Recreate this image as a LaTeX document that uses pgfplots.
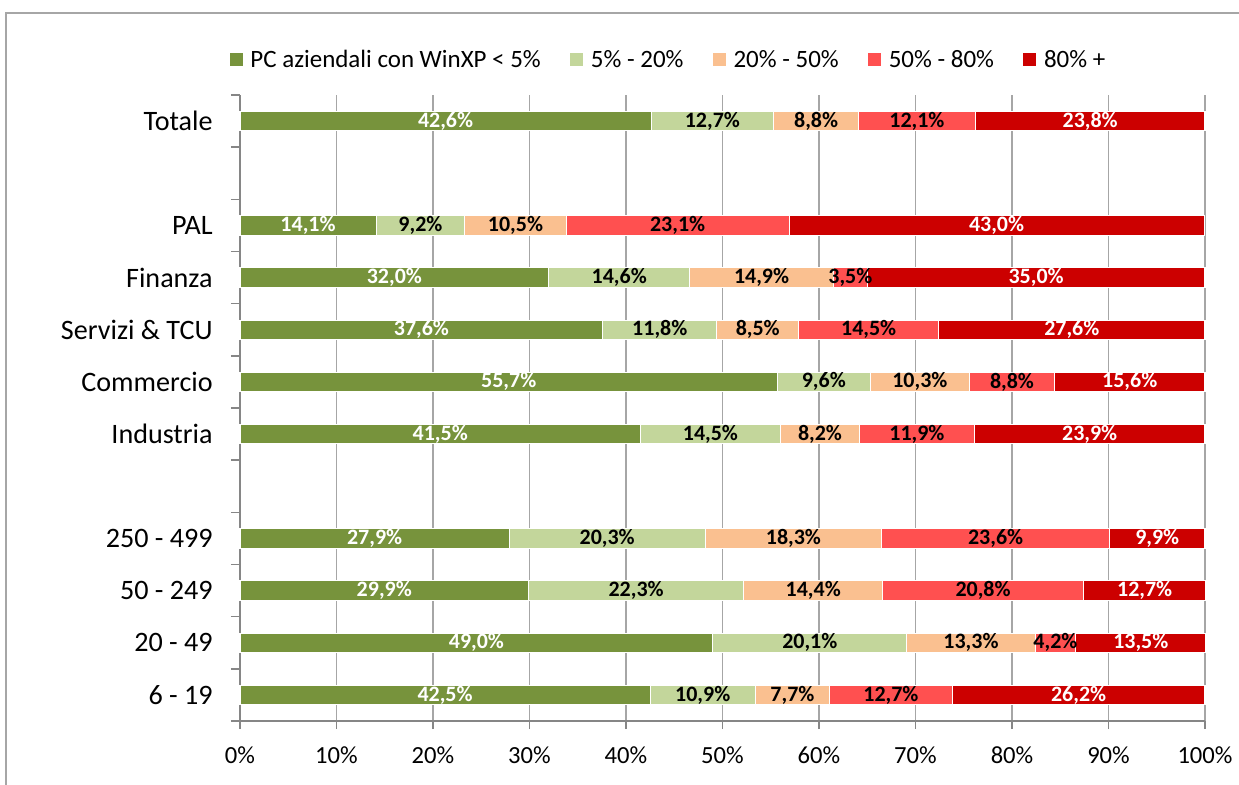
\documentclass[border=0pt]{standalone}
\usepackage{pgfplots}
\pgfplotsset{compat=1.18}
\usepackage{pgfplotstable}
\usepackage{fontspec}
\setmainfont{Carlito}
\definecolor{cA}{HTML}{77933C}
\definecolor{cB}{HTML}{C3D69B}
\definecolor{cC}{HTML}{FAC090}
\definecolor{cD}{HTML}{FF5050}
\definecolor{cE}{HTML}{CC0000}
\definecolor{gridc}{HTML}{A6A6A6}
\definecolor{axc}{HTML}{868686}
% y: 0=6-19, 1=20-49, 2=50-249, 3=250-499, 5=Industria, 6=Commercio, 7=Servizi, 8=Finanza, 9=PAL, 11=Totale
\pgfplotstableread{
y v
0 42.5
1 49.0
2 29.9
3 27.9
5 41.5
6 55.7
7 37.6
8 32.0
9 14.1
11 42.6
}\tA
\pgfplotstableread{
y v
0 10.9
1 20.1
2 22.3
3 20.3
5 14.5
6 9.6
7 11.8
8 14.6
9 9.2
11 12.7
}\tB
\pgfplotstableread{
y v
0 7.7
1 13.3
2 14.4
3 18.3
5 8.2
6 10.3
7 8.5
8 14.9
9 10.5
11 8.8
}\tC
\pgfplotstableread{
y v
0 12.7
1 4.2
2 20.8
3 23.6
5 11.9
6 8.8
7 14.5
8 3.5
9 23.1
11 12.1
}\tD
\pgfplotstableread{
y v
0 26.2
1 13.5
2 12.7
3 9.9
5 23.9
6 15.6
7 27.6
8 35.0
9 43.0
11 23.8
}\tE
\begin{document}
\begin{tikzpicture}
\useasboundingbox (-4.8,-1.26) rectangle (19.98,14.42);
\draw[gridc, line width=0.7pt] (-4.68,-1.6) -- (-4.68,14.16) -- (20.5,14.16);
\begin{axis}[
  at={(0,0)}, anchor=south west,
  scale only axis, width=19.3cm, height=12.52cm,
  xbar stacked, bar width=0.37,
  xmin=0, xmax=100, ymin=-0.5, ymax=11.5,
  clip=false,
  axis lines*=left,
  axis line style={axc, line width=0.8pt},
  tick align=outside,
  xtick={0,10,...,100},
  xticklabels={0\%,10\%,20\%,30\%,40\%,50\%,60\%,70\%,80\%,90\%,100\%},
  ytick={0,1,2,3,5,6,7,8,9,11},
  yticklabels={6 - 19,20 - 49,50 - 249,250 - 499,Industria,Commercio,Servizi \& TCU,Finanza,PAL,Totale},
  minor ytick={-0.5,0.5,...,11.5},
  major tick length=0.16cm,
  minor tick length=0.18cm,
  every major y tick/.append style={draw=none},
  every minor y tick/.append style={axc, line width=0.8pt},
  every major x tick/.append style={axc, line width=0.8pt},
  xmajorgrids=true,
  major x grid style={gridc, line width=0.8pt},
  x tick label style={font=\fontsize{14}{16}\selectfont, inner sep=0pt, anchor=north},
  y tick label style={font=\fontsize{16}{18}\selectfont, inner sep=0pt, anchor=east},
  xticklabel shift=0.34cm,
  yticklabel shift=0.38cm,
  legend style={at={(-0.0104,1.056)}, anchor=west, draw=none, fill=none,
    inner sep=0pt, outer sep=0pt,
    legend columns=-1, font=\fontsize{14.2}{16}\selectfont,
    /tikz/every even column/.append style={column sep=0.52cm}},
  legend image code/.code={\fill[#1,draw=none] (0cm,-0.13cm) rectangle (0.26cm,0.13cm); \path (0.33cm,0cm);},
  point meta=explicit,
  nodes near coords={\pgfmathprintnumber[fixed,fixed zerofill,precision=1,use comma,assume math mode=true]{\pgfplotspointmeta}\%},
  every node near coord/.append style={font=\bfseries\fontsize{12.5}{14}\selectfont, anchor=center, inner sep=0pt},
]
\addplot[fill=cA, draw=white, line width=0.6pt, every node near coord/.append style={text=white}] table[x=v,y=y,meta=v]{\tA};
\addplot[fill=cB, draw=white, line width=0.6pt, every node near coord/.append style={text=black}] table[x=v,y=y,meta=v]{\tB};
\addplot[fill=cC, draw=white, line width=0.6pt, every node near coord/.append style={text=black}] table[x=v,y=y,meta=v]{\tC};
\addplot[fill=cD, draw=white, line width=0.6pt, every node near coord/.append style={text=black}] table[x=v,y=y,meta=v]{\tD};
\addplot[fill=cE, draw=white, line width=0.6pt, every node near coord/.append style={text=white}] table[x=v,y=y,meta=v]{\tE};
\legend{PC aziendali con WinXP < 5\%,5\% - 20\%,20\% - 50\%,50\% - 80\%,80\% +}
\end{axis}
\end{tikzpicture}
\end{document}
